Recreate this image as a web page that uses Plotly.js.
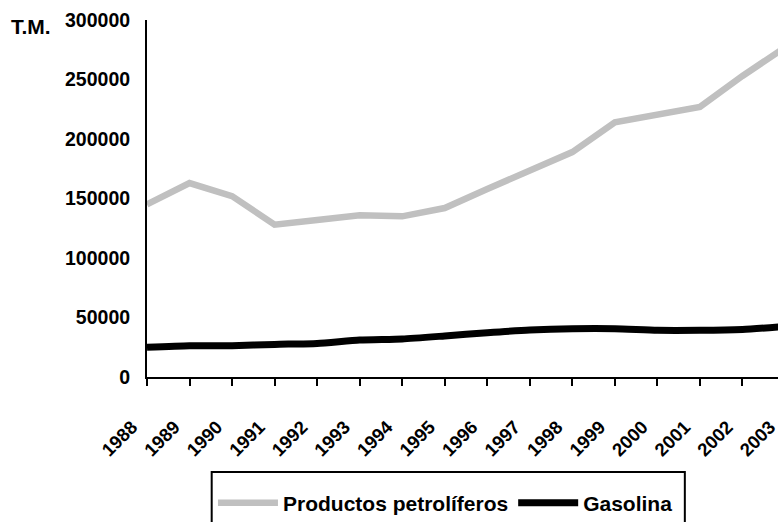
<!DOCTYPE html>
<html>
<head>
<meta charset="utf-8">
<script src="https://cdn.plot.ly/plotly-3.0.1.min.js"></script>
<style>
html, body { margin: 0; padding: 0; overflow: hidden; background: #fff; }
#chart { width: 800px; height: 522px; }
</style>
</head>
<body>
<div id="chart"></div>
<script>
const years = [1988, 1989, 1990, 1991, 1992, 1993, 1994, 1995, 1996, 1997, 1998, 1999, 2000, 2001, 2002, 2003];
const productos = [145000, 163000, 152000, 128000, 132000, 136000, 135000, 142000, 158000, 174000, 189000, 214000, 221000, 227000, 253000, 277000];
const gasolina = [25000, 26300, 26300, 27400, 28200, 31000, 32000, 34500, 37200, 39500, 40600, 40600, 39200, 39200, 40000, 42500];
const yTicks = [0, 50000, 100000, 150000, 200000, 250000, 300000];
const seriesNames = ['Productos petrolíferos', 'Gasolina'];
const unitLabel = 'T.M.';

const fam = 'Liberation Sans, Arial, sans-serif';

const traces = [
  {x: years, y: productos, name: seriesNames[0], type: 'scatter', mode: 'lines',
   line: {color: '#c0c0c0', width: 6.5}},
  {x: years, y: gasolina, name: seriesNames[1], type: 'scatter', mode: 'lines',
   line: {color: '#000000', width: 7, shape: 'spline', smoothing: 0.6}}
];

const layout = {
  width: 800, height: 522,
  margin: {l: 147, r: 15, t: 20, b: 145, autoexpand: false},
  paper_bgcolor: '#fff', plot_bgcolor: '#fff',
  font: {family: fam, size: 19, color: '#000'},
  showlegend: true,
  xaxis: {
    range: [1988, 2003], tickvals: years, ticktext: years.map(String),
    tickangle: -45, ticks: 'outside', ticklen: 7, tickwidth: 2, tickcolor: '#000',
    showline: true, linecolor: '#000', linewidth: 2, showgrid: false, zeroline: false,
    automargin: false,
    ticklabelshift: -15, ticklabelstandoff: 23,
    tickfont: {family: fam, size: 18.5, color: '#000', weight: 'bold'}
  },
  yaxis: {
    range: [0, 300000], tickvals: yTicks, ticktext: yTicks.map(String),
    ticks: '', showline: true, linecolor: '#000', linewidth: 2, showgrid: false, zeroline: false,
    automargin: false,
    ticklabelstandoff: 11,
    tickfont: {family: fam, size: 19.5, color: '#000', weight: 'bold'}
  },
  legend: {
    orientation: 'h', x: 0.1034, xanchor: 'left', y: -0.353, yanchor: 'middle',
    borderwidth: 0, bgcolor: 'rgba(0,0,0,0)',
    font: {family: fam, size: 21, color: '#000', weight: 'bold'},
    itemwidth: 60
  },
  shapes: [{
    type: 'rect', xref: 'paper', yref: 'paper',
    x0: 0.1014, x1: 0.843, y0: -0.266, y1: -0.46,
    line: {color: '#000', width: 2}, fillcolor: 'rgba(0,0,0,0)', layer: 'below'
  }],
  annotations: [{
    text: '<b>' + unitLabel + '</b>', xref: 'paper', yref: 'paper',
    x: -0.216, y: 0.983, xanchor: 'left', yanchor: 'middle', showarrow: false,
    font: {family: fam, size: 21, color: '#000'}
  }]
};

Plotly.newPlot('chart', traces, layout, {displayModeBar: false, responsive: false});
</script>
</body>
</html>
